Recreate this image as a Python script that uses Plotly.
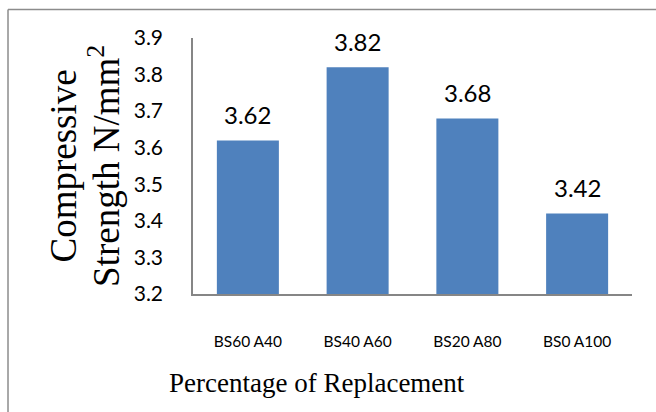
import plotly.graph_objects as go

categories = ["BS60 A40", "BS40 A60", "BS20 A80", "BS0 A100"]
strength = [3.62, 3.82, 3.68, 3.42]
y_ticks = [3.2, 3.3, 3.4, 3.5, 3.6, 3.7, 3.8, 3.9]
y_title_lines = ["Compressive", "Strength N/mm<sup>2</sup>"]
x_title = "Percentage of Replacement"

bar_color = "#4F81BD"
axis_color = "#868686"
sans = "Lato, 'Open Sans', sans-serif"
serif = "'Liberation Serif', 'Times New Roman', serif"

fig = go.Figure()
fig.add_trace(go.Bar(x=categories, y=strength, marker=dict(color=bar_color, line=dict(width=0)),
                     hoverinfo="skip"))

for c, v in zip(categories, strength):
    fig.add_annotation(x=c, y=v, text=f"{v:.2f}", showarrow=False, yanchor="middle",
                       yshift=26, font=dict(family=sans, size=24, color="#000000"))

fig.add_annotation(xref="paper", yref="paper", x=0.2825, y=-0.348, text=x_title, showarrow=False,
                   xanchor="center", yanchor="middle", font=dict(family=serif, size=27, color="#000000"))
for xp, line in zip([-0.295, -0.203], y_title_lines):
    fig.add_annotation(xref="paper", yref="paper", x=xp, y=0.5, text=line, showarrow=False,
                       textangle=-90, xanchor="center", yanchor="middle",
                       font=dict(family=serif, size=37, color="#000000"))

# outer chart border (left and top edges visible)
border = dict(color="#8C8C8C", width=1.5)
fig.add_shape(type="line", xref="paper", yref="paper", x0=-0.4214, x1=-0.4214, y0=-0.6, y1=1.111,
              line=border, layer="above")
fig.add_shape(type="line", xref="paper", yref="paper", x0=-0.4214, x1=1.1, y0=1.111, y1=1.111,
              line=border, layer="above")

fig.update_layout(
    width=656, height=412,
    margin=dict(l=193, r=24, t=38, b=118, autoexpand=False),
    paper_bgcolor="white", plot_bgcolor="white",
    showlegend=False, bargap=0.435,
    xaxis=dict(type="category", showline=True, linecolor=axis_color, linewidth=2,
               ticks="", showgrid=False, automargin=False,
               tickfont=dict(family=sans, size=15.5, color="#000000"),
               ticklabelstandoff=32),
    yaxis=dict(range=[3.2, 3.9], tickvals=y_ticks, ticktext=[f"{t:.1f}" for t in y_ticks],
               showline=True, linecolor=axis_color, linewidth=1.5, ticks="", showgrid=False,
               zeroline=False, automargin=False,
               tickfont=dict(family=sans, size=21, color="#000000"),
               ticklabelstandoff=24),
)

fig.write_html("out.html", config={"displayModeBar": False},
               post_script="document.body.style.margin='0';")
